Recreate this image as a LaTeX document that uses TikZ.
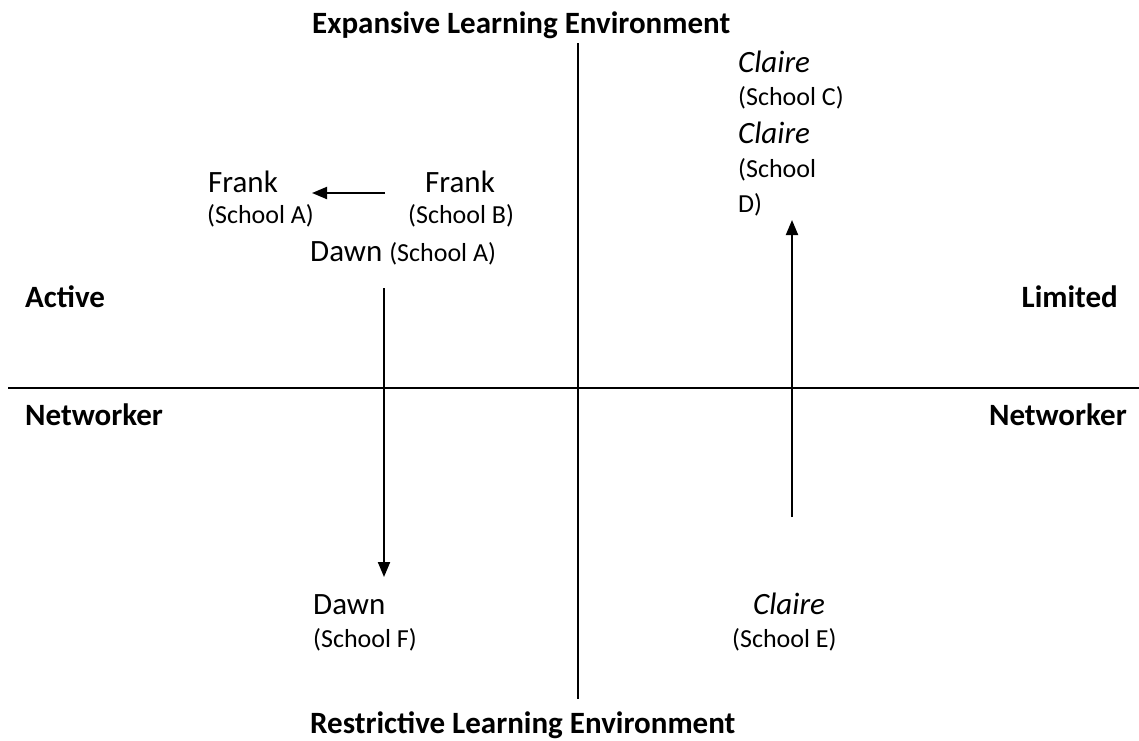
\documentclass[tikz,border=0pt]{standalone}
\usepackage{fontspec}
\setmainfont{Carlito}
\usetikzlibrary{arrows.meta}
\tikzset{
  pname/.style={anchor=base west,inner sep=0pt,font=\fontsize{31}{36}\selectfont},
  iname/.style={pname,font=\fontsize{31}{36}\selectfont\itshape},
  school/.style={anchor=base west,inner sep=0pt,font=\fontsize{26}{31}\selectfont},
  head/.style={inner sep=0pt,font=\fontsize{31}{36}\selectfont\bfseries},
  axis/.style={line width=2pt},
  arr/.style={line width=2pt,-{Triangle[length=15pt,width=12pt]}}
}
\begin{document}
\begin{tikzpicture}[x=1pt,y=-1pt]
\useasboundingbox (0,0) rectangle (1139,740);
% axes
\coordinate (vt) at (578,43);
\coordinate (vb) at (578,699);
\coordinate (hl) at (8,388);
\coordinate (hr) at (1139,388);
\draw[axis] (vt) -- (vb);
\draw[axis] (hl) -- (hr);
% headings
\node[head,anchor=base west] (exp) at (312,33) {Expansive Learning Environment};
\node[head,anchor=base west] (res) at (310,733) {Restrictive Learning Environment};
\node[head,anchor=base west] (act) at (25,307) {Active};
\node[head,anchor=base west] (netl) at (25,425) {Networker};
\node[head,anchor=base east] (lim) at (1118,307) {Limited};
\node[head,anchor=base east] (netr) at (1127,425) {Networker};
% Frank
\node[pname] (fa) at (208,192) {Frank};
\node[school] (fas) at (207,223) {(School A)};
\node[pname] (fb) at (425,192) {Frank};
\node[school] (fbs) at (408,223) {(School B)};
\node[pname] (da) at (310,261) {Dawn \fontsize{26}{31}\selectfont(School A)};
% Dawn F
\node[pname] (df) at (313,614) {Dawn};
\node[school] (dfs) at (313,647) {(School F)};
% Claire E
\node[iname] (ce) at (753,614) {Claire};
\node[school] (ces) at (732,647) {(School E)};
% Claire C / D
\node[iname] (cc) at (738,72) {Claire};
\node[school] (ccs) at (738,105) {(School C)};
\node[iname] (cd) at (738,143) {Claire};
\node[school] (cds1) at (738,177) {(School};
\node[school] (cds2) at (738,212) {D)};
% arrows
\coordinate (a1s) at (385,193);
\coordinate (a1e) at (312,193);
\draw[arr] (a1s) -- (a1e);
\coordinate (a2s) at (384,288);
\coordinate (a2e) at (384,577);
\draw[arr] (a2s) -- (a2e);
\coordinate (a3s) at (792,517);
\coordinate (a3e) at (792,220);
\draw[arr] (a3s) -- (a3e);
\end{tikzpicture}
\end{document}
